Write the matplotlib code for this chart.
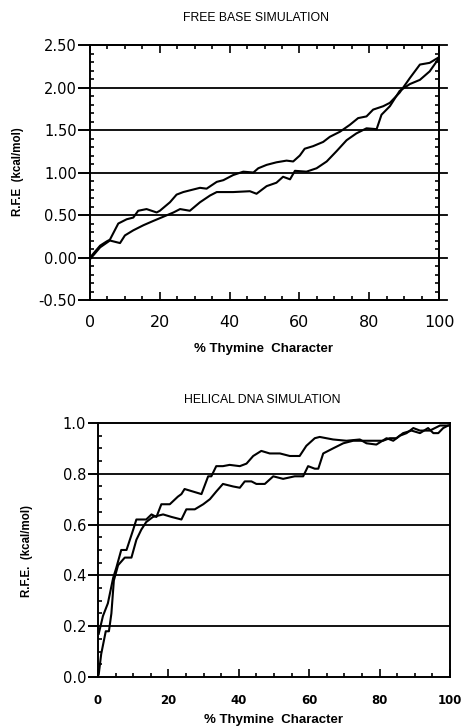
import matplotlib
matplotlib.use("Agg")
import matplotlib.pyplot as plt
from matplotlib.ticker import MultipleLocator, FormatStrFormatter

# free base simulation, two runs
fb_x1 = [0, 2.9, 4.8, 5.7, 8.1, 10.5, 12.4, 13.8, 16.2, 19.1, 20.0, 22.9, 24.8, 26.7, 28.6,
         31.5, 33.4, 36.3, 38.2, 41.0, 43.9, 46.8, 48.2, 50.6, 53.4, 56.3, 58.2, 60.1, 61.5,
         63.9, 66.8, 68.7, 71.6, 74.4, 76.8, 79.2, 81.1, 84.0, 85.9, 88.7, 91.6, 94.5, 97.3, 99.7]
fb_y1 = [0.0, 0.14, 0.19, 0.21, 0.40, 0.45, 0.47, 0.55, 0.57, 0.53, 0.55, 0.65, 0.74, 0.77, 0.79,
         0.82, 0.81, 0.89, 0.91, 0.97, 1.01, 1.00, 1.05, 1.09, 1.12, 1.14, 1.13, 1.20, 1.28,
         1.31, 1.36, 1.42, 1.48, 1.56, 1.64, 1.66, 1.74, 1.78, 1.82, 1.94, 2.11, 2.27, 2.29, 2.35]
fb_x2 = [0, 2.9, 5.7, 8.6, 10.0, 12.4, 15.3, 18.1, 21.0, 23.9, 25.8, 28.6, 31.5, 34.4, 36.3,
         41.0, 45.8, 47.7, 50.6, 53.4, 55.3, 57.3, 58.7, 62.0, 64.9, 67.8, 70.6, 73.5, 76.3,
         79.2, 82.1, 83.5, 85.9, 88.7, 91.6, 94.5, 97.3, 99.7]
fb_y2 = [-0.02, 0.12, 0.20, 0.17, 0.26, 0.32, 0.38, 0.43, 0.48, 0.53, 0.57, 0.55, 0.65, 0.73, 0.77,
         0.77, 0.78, 0.75, 0.84, 0.88, 0.95, 0.92, 1.02, 1.01, 1.05, 1.13, 1.25, 1.38, 1.46,
         1.52, 1.51, 1.68, 1.78, 1.96, 2.04, 2.09, 2.19, 2.33]

# helical DNA simulation, two runs
hx_x1 = [0.2, 1.4, 2.8, 4.3, 5.2, 6.6, 8.1, 10.0, 10.9, 13.7, 15.2, 16.6, 18.0, 20.4, 22.7,
         23.7, 24.6, 27.0, 29.4, 31.3, 32.2, 33.6, 35.5, 37.4, 40.3, 42.2, 44.1, 46.4, 48.8,
         51.7, 54.5, 57.3, 59.2, 61.6, 63.0, 66.8, 70.6, 74.4, 76.3, 79.1, 82.0, 83.9, 85.8,
         87.7, 89.6, 91.5, 94.3, 97.2, 99.5]
hx_y1 = [0.17, 0.24, 0.29, 0.39, 0.43, 0.50, 0.50, 0.58, 0.62, 0.62, 0.64, 0.63, 0.68, 0.68, 0.71,
         0.72, 0.74, 0.73, 0.72, 0.79, 0.79, 0.83, 0.83, 0.835, 0.83, 0.84, 0.87, 0.89, 0.88,
         0.88, 0.87, 0.87, 0.91, 0.94, 0.945, 0.935, 0.93, 0.935, 0.92, 0.915, 0.94, 0.93, 0.95,
         0.96, 0.98, 0.97, 0.97, 0.99, 0.99]
hx_x2 = [0.2, 0.9, 2.2, 3.1, 3.8, 4.5, 5.7, 7.6, 9.5, 10.9, 12.3, 13.7, 15.6, 18.5, 20.9,
         23.7, 25.1, 27.5, 29.9, 31.8, 33.6, 35.5, 38.4, 40.3, 41.7, 43.6, 45.0, 47.4, 49.8,
         52.6, 55.9, 58.3, 59.7, 61.6, 62.6, 64.0, 66.8, 69.7, 72.5, 75.4, 78.2, 81.0, 82.9,
         84.8, 86.7, 89.1, 91.5, 93.8, 95.3, 96.7, 98.1, 99.5]
hx_y2 = [0.01, 0.09, 0.18, 0.18, 0.25, 0.38, 0.44, 0.47, 0.47, 0.54, 0.58, 0.61, 0.63, 0.64, 0.63,
         0.62, 0.66, 0.66, 0.68, 0.70, 0.73, 0.76, 0.75, 0.745, 0.77, 0.77, 0.76, 0.76, 0.79,
         0.78, 0.79, 0.79, 0.83, 0.82, 0.82, 0.88, 0.90, 0.92, 0.93, 0.93, 0.93, 0.93, 0.94,
         0.94, 0.96, 0.97, 0.96, 0.98, 0.96, 0.96, 0.98, 0.99]

fb_grid = [-0.5, 0.0, 0.5, 1.0, 1.5, 2.0, 2.5]
hx_grid = [0.2, 0.4, 0.6, 0.8]

TICKFONT = "DejaVu Sans"
TEXTFONT = "Liberation Sans"


def setupPanel(ax, ylim, ymajor, yminor, yfmt, right_minor):
    ax.set_xlim(0, 100)
    ax.set_ylim(ylim)
    ax.xaxis.set_major_locator(MultipleLocator(20))
    ax.xaxis.set_minor_locator(MultipleLocator(5))
    ax.yaxis.set_major_locator(MultipleLocator(ymajor))
    ax.yaxis.set_minor_locator(MultipleLocator(yminor))
    ax.yaxis.set_major_formatter(FormatStrFormatter(yfmt))
    for s in ax.spines.values():
        s.set_linewidth(1.4)
    ax.tick_params(axis="x", which="both", direction="in", width=1.2, top=right_minor)
    ax.tick_params(axis="x", which="major", length=5.5)
    ax.tick_params(axis="x", which="minor", length=3)
    ax.tick_params(axis="y", which="major", direction="out", length=8.5, width=1.4, pad=1,
                   right=False)
    ax.tick_params(axis="y", which="minor", direction="in", length=3, width=1.2,
                   right=right_minor)


fig = plt.figure(figsize=(4.63, 7.27), dpi=100)

# ---- top panel
ax1 = fig.add_axes([0.1944, 0.5873, 0.754, 0.3508])
setupPanel(ax1, (-0.5, 2.5), 0.5, 0.1, "%.2f", True)
for g in fb_grid:
    ax1.axhline(g, xmin=0, xmax=1.023, color="black", lw=1.3, clip_on=False, zorder=1)
ax1.plot(fb_x1, fb_y1, color="black", lw=1.5, zorder=3)
ax1.plot(fb_x2, fb_y2, color="black", lw=1.5, zorder=3)
for t in ax1.get_yticklabels():
    t.set_fontfamily(TICKFONT)
    t.set_fontsize(10.5)
for t in ax1.get_xticklabels():
    t.set_fontfamily(TICKFONT)
    t.set_fontsize(11.5)
ax1.tick_params(axis="x", which="major", pad=11)
fig.text(256 / 463, 1 - 18 / 727, "FREE BASE SIMULATION", family=TEXTFONT, fontsize=8.8,
         ha="center", va="center")
fig.text(264 / 463, 1 - 349 / 727, "% Thymine  Character", family=TEXTFONT, fontsize=9.5,
         ha="center", va="center", weight="bold")
fig.text(18 / 463, 1 - 172 / 727, "R.F.E  (kcal/mol)", family=TEXTFONT, fontsize=8.3,
         ha="center", va="center", rotation=90, weight="bold")

# ---- bottom panel
ax2 = fig.add_axes([0.2117, 0.0688, 0.760, 0.3494])
setupPanel(ax2, (0.0, 1.0), 0.2, 0.05, "%.1f", False)
for g in hx_grid:
    ax2.axhline(g, color="black", lw=1.3, zorder=1)
ax2.plot(hx_x1, hx_y1, color="black", lw=1.5, zorder=3)
ax2.plot(hx_x2, hx_y2, color="black", lw=1.5, zorder=3)
ax2.tick_params(axis="y", which="major", length=7.5)
for t in ax2.get_yticklabels():
    t.set_fontfamily(TICKFONT)
    t.set_fontsize(10.5)
for t in ax2.get_xticklabels():
    t.set_fontfamily(TICKFONT)
    t.set_fontsize(8.5)
    t.set_fontweight("bold")
ax2.tick_params(axis="x", which="major", pad=12)
fig.text(262 / 463, 1 - 400 / 727, "HELICAL DNA SIMULATION", family=TEXTFONT, fontsize=8.8,
         ha="center", va="center")
fig.text(274 / 463, 1 - 720 / 727, "% Thymine  Character", family=TEXTFONT, fontsize=9.5,
         ha="center", va="center", weight="bold")
fig.text(27 / 463, 1 - 551 / 727, "R.F.E.  (kcal/mol)", family=TEXTFONT, fontsize=8.3,
         ha="center", va="center", rotation=90, weight="bold")

fig.savefig("out.png", dpi=100)
